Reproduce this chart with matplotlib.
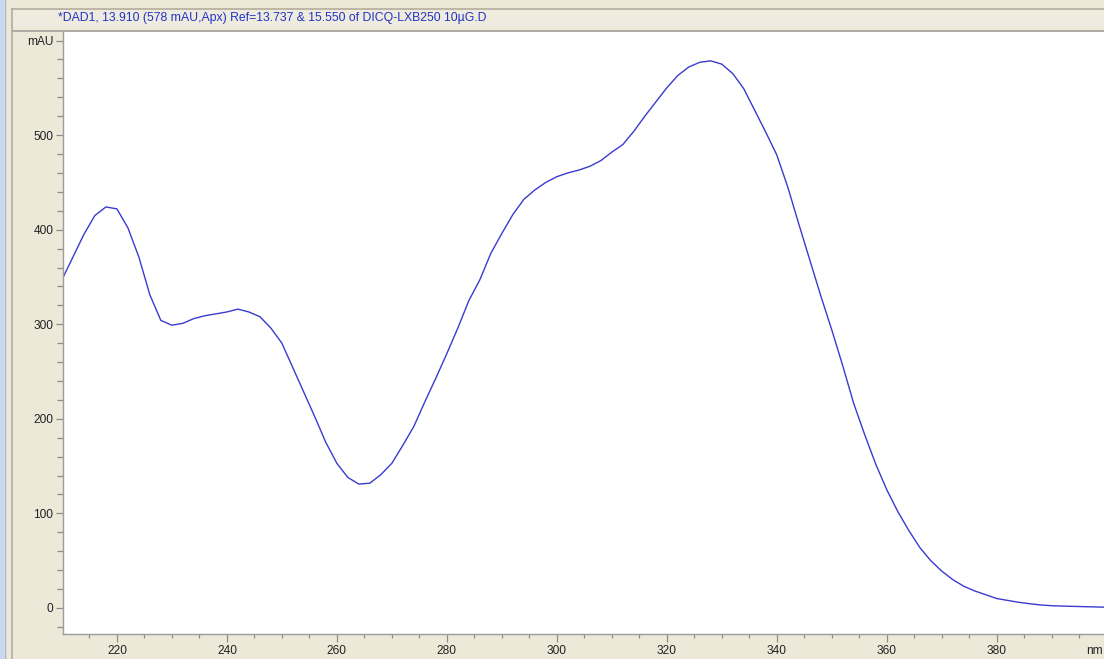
import matplotlib
matplotlib.use("Agg")
import matplotlib.pyplot as plt
from matplotlib.patches import Rectangle
from matplotlib.lines import Line2D
from matplotlib.ticker import MultipleLocator, FixedLocator
import numpy as np

# UV spectrum (DAD) — wavelength in nm, absorbance in mAU
wavelength = [210, 212, 214, 216, 218, 220, 222, 224, 226, 228, 230, 232, 234, 236,
              238, 240, 242, 244, 246, 248, 250, 252, 254, 256, 258, 260, 262, 264,
              266, 268, 270, 272, 274, 276, 278, 280, 282, 284, 286, 288, 290, 292,
              294, 296, 298, 300, 302, 304, 306, 308, 310, 312, 314, 316, 318, 320,
              322, 324, 326, 328, 330, 332, 334, 336, 338, 340, 342, 344, 346, 348,
              350, 352, 354, 356, 358, 360, 362, 364, 366, 368, 370, 372, 374, 376,
              378, 380, 382, 384, 386, 388, 390, 392, 394, 396, 398, 400]
absorbance = [347, 371, 395, 415, 424, 422, 402, 371, 331, 304, 299, 301, 306, 309,
              311, 313, 316, 313, 308, 296, 280, 254, 228, 202, 175, 153, 138, 131,
              132, 141, 153, 172, 192, 218, 243, 269, 296, 325, 347, 375, 396, 416,
              432, 442, 450, 456, 460, 463, 467, 473, 482, 490, 504, 520, 535, 550,
              563, 572, 577, 578.5, 575, 565, 549, 526, 503, 479, 445, 406, 368, 330,
              294, 256, 216, 183, 152, 125, 102, 82, 64, 50, 39, 30, 23, 18,
              14, 10, 8, 6, 4.5, 3.2, 2.4, 2.0, 1.7, 1.4, 1.1, 0.8]

title_text = "*DAD1, 13.910 (578 mAU,Apx) Ref=13.737 & 15.550 of DICQ-LXB250 10\u00b5G.D"
y_major = [0, 100, 200, 300, 400, 500, 600]
y_labels = ["0", "100", "200", "300", "400", "500", "mAU"]
x_major = [220, 240, 260, 280, 300, 320, 340, 360, 380]
x_labels = ["220", "240", "260", "280", "300", "320", "340", "360", "380"]
x_unit = "nm"

W, H = 1104, 659
BG = "#ECE9D8"
FONT = "Liberation Sans"
fig = plt.figure(figsize=(W / 100, H / 100), dpi=100, facecolor=BG)

def fx(px):
    return px / W

def fy(py):
    return 1 - py / H

# window chrome: left blue strip and frames
fig.patches.append(Rectangle((0, 0), fx(4), 1, transform=fig.transFigure,
                             facecolor="#C9D7EE", edgecolor="none", zorder=0))
fig.lines.append(Line2D([fx(4.5), fx(4.5)], [0, 1], transform=fig.transFigure,
                        color="#9FB3D6", lw=1))
# title bar
fig.patches.append(Rectangle((fx(12), fy(27)), 1 - fx(12), (27 - 9) / H,
                             transform=fig.transFigure, facecolor="#EFEBDF",
                             edgecolor="none", zorder=0))
fig.lines.append(Line2D([fx(12), 1], [fy(9), fy(9)], transform=fig.transFigure,
                        color="#B5AD9C", lw=1.2))
fig.lines.append(Line2D([fx(12), 1], [fy(31), fy(31)], transform=fig.transFigure,
                        color="#A6A29A", lw=1.2))
fig.lines.append(Line2D([fx(12), fx(12)], [0, fy(9)], transform=fig.transFigure,
                        color="#B5AD9C", lw=1.2))
fig.text(fx(58), fy(18), title_text, ha="left", va="center", color="#2233C4",
         fontsize=8.8, family=FONT)

ax = fig.add_axes([fx(63), 1 - 634 / H, 1 - fx(63), (634 - 32) / H])
ax.set_facecolor("white")
ax.plot(wavelength, absorbance, color="#3A3ACF", lw=1.0)

ax.set_xlim(210.2, 399.5)
ax.set_ylim(-27.5, 609)

ax.xaxis.set_major_locator(FixedLocator(x_major))
ax.set_xticklabels(x_labels)
ax.xaxis.set_minor_locator(MultipleLocator(5))
ax.yaxis.set_major_locator(FixedLocator(y_major))
ax.set_yticklabels(y_labels)
ax.yaxis.set_minor_locator(MultipleLocator(20))

for s in ("top", "right"):
    ax.spines[s].set_visible(False)
for s in ("left", "bottom"):
    ax.spines[s].set_color("#9C9C9C")
    ax.spines[s].set_linewidth(1.0)

ax.tick_params(axis="both", which="both", color="#8C8C8C", width=0.9,
               labelsize=8.6, labelcolor="#222222", pad=2)
ax.tick_params(axis="x", which="major", length=6)
ax.tick_params(axis="x", which="minor", length=3)
ax.tick_params(axis="y", which="major", length=5)
ax.tick_params(axis="y", which="minor", length=4)
for lab in ax.get_xticklabels() + ax.get_yticklabels():
    lab.set_family(FONT)

# axis unit at the right end of the wavelength scale
ax.annotate(x_unit, xy=(1.0, 0), xycoords="axes fraction",
            xytext=(-1, -8), textcoords="offset points", ha="right", va="top",
            fontsize=8.6, family=FONT, color="#222222", annotation_clip=False)

fig.savefig("out.png", dpi=100, facecolor=BG)
